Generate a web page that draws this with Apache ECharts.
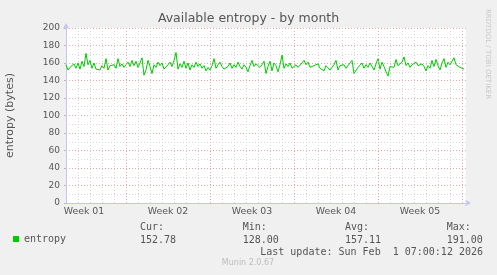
<!DOCTYPE html>
<html><head><meta charset="utf-8">
<script src="https://cdn.jsdelivr.net/npm/echarts@6/dist/echarts.min.js"></script>
<style>html,body{margin:0;padding:0;background:#f0f0f0}#c{width:497px;height:275px}</style>
</head><body><div id="c"></div>
<script>
const chartTitle = 'Available entropy - by month';
const yAxisName = 'entropy (bytes)';
const seriesName = 'entropy';
// one sample every 4 hours
const entropyValues = [
158,152,155,153,159,154,160,153,162,156,171,158,163,154,160,153,155,152,157,154,165,152,157,155,158,154,165,156,159,155,158,161,156,163,157,162,155,160,166,146,
152,163,156,148,158,155,161,157,160,153,151,158,161,156,163,172,153,159,155,162,154,160,152,158,155,161,156,159,154,157,151,155,152,157,165,154,158,161,156,153,
151,156,160,154,158,155,161,156,153,158,155,150,157,163,156,159,160,155,158,162,148,156,162,151,160,157,150,158,169,154,159,156,160,154,152,158,155,157,160,163,
158,161,155,153,157,155,159,154,156,151,157,159,152,150,158,163,152,157,155,158,154,157,155,163,148,146,155,157,160,154,158,155,160,156,152,159,165,153,161,156,
150,145,156,158,155,164,157,159,161,167,157,160,155,158,156,161,157,155,159,156,151,157,154,163,156,164,157,152,160,165,155,161,158,156,166,158,160,155,156,153
];
const sampleHours = 4;
const rangeHours = 800;            // span of the month graph
const firstWeekStartDay = 5;       // days from graph start to first week boundary
const weekLabels = ['Week 01', 'Week 02', 'Week 03', 'Week 04', 'Week 05'];
const yTicks = [0, 200, 20, 10];   // min, max, major step, minor step
const statLabels = ['Cur:', 'Min:', 'Avg:', 'Max:'];
const statValues = [152.78, 128.00, 157.11, 191.00];
const lastUpdate = 'Last update: Sun Feb  1 07:00:12 2026';
const footerText = 'Munin 2.0.67';
const watermark = 'RRDTOOL / TOBI OETIKER';

const rangeDays = rangeHours / 24;
const seriesData = entropyValues.map((v, i) => [i * sampleHours / 24, v]);
const weekLines = [];
for (let d = firstWeekStartDay; d <= rangeDays; d += 7) weekLines.push(d);
const weekLabelPos = weekLabels.map((w, k) => firstWeekStartDay - 7 + 7 * k + 3.5);

const SANS = 'DejaVu Sans';
const MONO = 'DejaVu Sans Mono';
const AXIS_COL = '#c4c4f2';
const MAJOR = '#eba8a8';
const MINOR = '#d6d6d6';
const TXT = '#555555';

const chart = echarts.init(document.getElementById('c'), null, {renderer: 'canvas'});
const statX = [140, 242.7, 345, 446.7];
const graphics = [
  {type: 'text', x: 488, y: 54, rotation: -Math.PI / 2,
   style: {text: watermark, fontSize: 7, fontFamily: SANS, fill: '#c8c8c8', align: 'center', verticalAlign: 'middle'}},
  {type: 'text', x: 248, y: 263, style: {text: footerText, fontSize: 8, fontFamily: SANS, fill: '#bcbcbc', align: 'center', verticalAlign: 'middle'}},
  {type: 'text', x: 483, y: 252, style: {text: lastUpdate, fontSize: 10, fontFamily: MONO, fill: TXT, align: 'right', verticalAlign: 'middle'}}
];
statLabels.forEach((s, i) => {
  graphics.push({type: 'text', x: statX[i], y: 227, style: {text: s, fontSize: 10, fontFamily: MONO, fill: TXT, align: 'left', verticalAlign: 'middle'}});
  graphics.push({type: 'text', x: statX[i], y: 240, style: {text: statValues[i].toFixed(2), fontSize: 10, fontFamily: MONO, fill: TXT, align: 'left', verticalAlign: 'middle'}});
});

chart.setOption({
  animation: false,
  backgroundColor: '#f0f0f0',
  title: {text: chartTitle, left: 'center', top: 12, padding: 0,
    textStyle: {fontSize: 12.5, fontWeight: 'normal', fontFamily: SANS, color: TXT}},
  legend: {data: [seriesName], left: 13, top: 234, padding: 0, icon: 'rect', itemWidth: 6, itemHeight: 6,
    textStyle: {fontFamily: MONO, fontSize: 10, color: TXT}},
  grid: {left: 66, top: 28, width: 400, height: 175, show: true, backgroundColor: '#ffffff', borderWidth: 0,
    containLabel: false, outerBoundsMode: 'none'},
  xAxis: [
    {type: 'value', position: 'bottom', min: 0, max: rangeDays, interval: 1,
      axisLine: {show: true, lineStyle: {color: AXIS_COL, width: 1}, symbol: ['none', 'arrow'], symbolSize: [5, 6], symbolOffset: [0, 5]},
      axisTick: {show: false},
      axisLabel: {show: false},
      splitLine: {show: true, showMinLine: false, showMaxLine: false, lineStyle: {color: MINOR, type: [1, 2], width: 1}}},
    {type: 'value', position: 'bottom', min: 0, max: rangeDays, interval: 0.5,
      axisLine: {show: false}, axisTick: {show: false}, splitLine: {show: false},
      axisLabel: {show: true, margin: 4, fontSize: 9.4, fontFamily: SANS, color: TXT,
        showMinLabel: false, showMaxLabel: false,
        formatter: function (v) {
          for (let k = 0; k < weekLabelPos.length; k++) if (Math.abs(v - weekLabelPos[k]) < 1e-6) return weekLabels[k];
          return '';
        }}}
  ],
  yAxis: {type: 'value', min: yTicks[0], max: yTicks[1], interval: yTicks[2],
    name: yAxisName, nameLocation: 'middle', nameGap: 50, nameRotate: 90,
    nameTextStyle: {fontSize: 11, fontFamily: SANS, color: TXT},
    axisLine: {show: true, lineStyle: {color: AXIS_COL, width: 1}, symbol: ['none', 'arrow'], symbolSize: [5, 6], symbolOffset: [0, 5]},
    axisTick: {show: true, length: 2, lineStyle: {color: '#bbbbbb'}},
    axisLabel: {fontSize: 9, fontFamily: SANS, color: TXT, margin: 6},
    splitLine: {show: true, showMinLine: false, lineStyle: {color: MAJOR, type: [1, 2], width: 1}},
    minorTick: {show: false, splitNumber: yTicks[2] / yTicks[3]},
    minorSplitLine: {show: true, lineStyle: {color: MINOR, type: [1, 2], width: 1}}},
  series: [
    {name: '_weeks', type: 'line', data: [], z: 1, silent: true,
      markLine: {silent: true, symbol: ['none', 'none'], label: {show: false},
        lineStyle: {color: MAJOR, type: [1, 2], width: 1}, emphasis: {disabled: true},
        data: weekLines.map(d => ({xAxis: d}))}},
    {name: seriesName, type: 'line', data: seriesData, showSymbol: false, symbol: 'none', z: 3,
      lineStyle: {color: '#00cc00', width: 1}, itemStyle: {color: '#00cc00'}}
  ],
  graphic: graphics
});
</script></body></html>
